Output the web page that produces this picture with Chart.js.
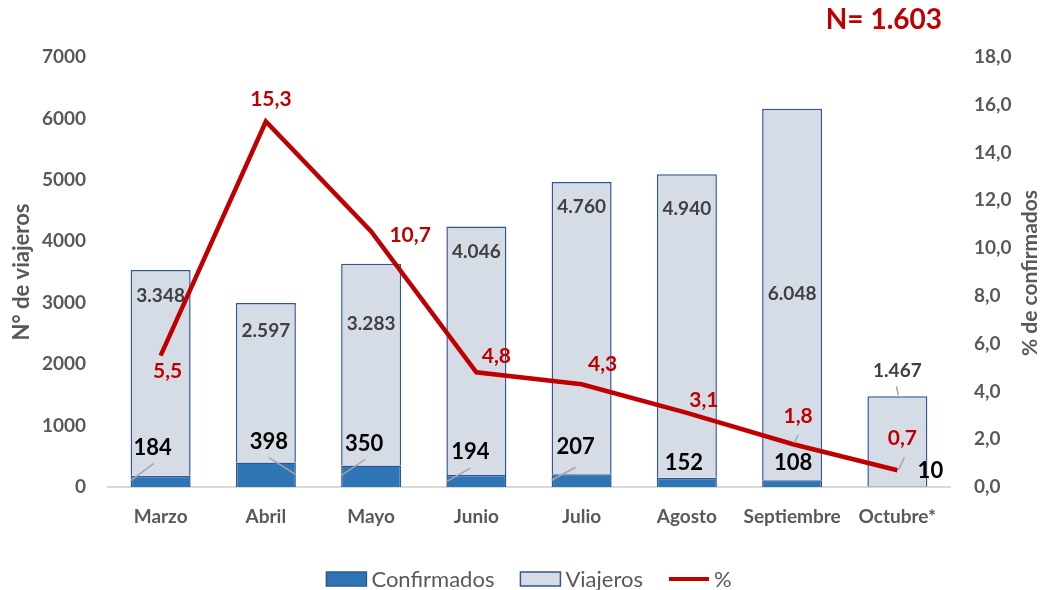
<!DOCTYPE html>
<html>
<head>
<meta charset="utf-8">
<script src="https://cdn.jsdelivr.net/npm/chart.js@4.4.1/dist/chart.umd.min.js"></script>
<style>
  html, body { margin: 0; padding: 0; background: #fff; }
  #wrap { width: 1041px; height: 590px; }
</style>
</head>
<body>
<div id="wrap"><canvas id="chart" width="1041" height="590"></canvas></div>
<script>
// ---- data ----
const months = ['Marzo', 'Abril', 'Mayo', 'Junio', 'Julio', 'Agosto', 'Septiembre', 'Octubre*'];
const confirmados = [184, 398, 350, 194, 207, 152, 108, 10];
const viajeros = [3348, 2597, 3283, 4046, 4760, 4940, 6048, 1467];
const porcentaje = [5.5, 15.3, 10.7, 4.8, 4.3, 3.1, 1.8, 0.7];
const totalN = '1.603';

// ---- label placement (pixel offsets, styling only) ----
const confOffsets = [[-8, -28], [3, -21], [-7, -22], [-6, -23], [-6, -27], [-3, -15], [1, -17], [33, -15]];
const confLeaders = [[-30, 5, -7, -12], [3, -5, 30, 12], [-30, 10, -6, -6], [-29, 6, -6, -7], [-30, 6, -6, -7], null, null, null];
const viaOffsets = [26, 28, 60, 25, 25, 35, 185, -25];
const viaLeaders = [null, null, null, null, null, null, null, [-1, -10, 1, -1]];
const pctOffsets = [[7, 16], [5, -22], [39, 4], [20, -16], [21, -20], [17, -13], [6, -28], [5, -32]];
const pctLeaders = [null, null, null, null, null, null, [2, -1, 6, -9], [1, 0, 7, -13]];

const FONT = "Lato, 'Open Sans', sans-serif";
const GREY = '#595959';
const RED = '#C00000';

const fmtInt = n => String(n).replace(/\B(?=(\d{3})+(?!\d))/g, '.');
const fmtPct = v => v.toFixed(1).replace('.', ',');

function leader(ctx, x, y, l) {
  if (!l) return;
  ctx.save();
  ctx.strokeStyle = '#A6A6A6';
  ctx.lineWidth = 1.5;
  ctx.beginPath();
  ctx.moveTo(x + l[0], y + l[1]);
  ctx.lineTo(x + l[2], y + l[3]);
  ctx.stroke();
  ctx.restore();
}

const labelPlugin = {
  id: 'labelPlugin',
  afterDatasetsDraw(chart) {
    const ctx = chart.ctx;
    const confMeta = chart.getDatasetMeta(0);
    const viaMeta = chart.getDatasetMeta(1);
    const lineMeta = chart.getDatasetMeta(2);
    ctx.save();
    ctx.textAlign = 'center';
    ctx.textBaseline = 'middle';

    // viajeros labels
    ctx.font = 'bold 19px ' + FONT;
    ctx.fillStyle = '#404040';
    viaMeta.data.forEach((bar, i) => {
      leader(ctx, bar.x, bar.y, viaLeaders[i]);
      ctx.fillText(fmtInt(viajeros[i]), bar.x, bar.y + viaOffsets[i]);
    });

    // confirmados labels
    ctx.font = 'bold 22px ' + FONT;
    ctx.fillStyle = '#000';
    confMeta.data.forEach((bar, i) => {
      leader(ctx, bar.x, bar.y, confLeaders[i]);
      ctx.fillText(String(confirmados[i]), bar.x + confOffsets[i][0], bar.y + confOffsets[i][1]);
    });

    // percentage labels
    ctx.font = 'bold 21px ' + FONT;
    ctx.fillStyle = RED;
    lineMeta.data.forEach((pt, i) => {
      leader(ctx, pt.x, pt.y, pctLeaders[i]);
      ctx.fillText(fmtPct(porcentaje[i]), pt.x + pctOffsets[i][0], pt.y + pctOffsets[i][1]);
    });
    ctx.restore();
  },
  afterDraw(chart) {
    const ctx = chart.ctx;
    const area = chart.chartArea;
    ctx.save();

    // N title
    ctx.font = 'bold 28px ' + FONT;
    ctx.fillStyle = RED;
    ctx.textAlign = 'right';
    ctx.textBaseline = 'middle';
    ctx.fillText('N= ' + totalN, 942, 20);

    // axis titles (both read bottom to top)
    ctx.fillStyle = GREY;
    ctx.textAlign = 'center';
    ctx.font = 'bold 22px ' + FONT;
    ctx.save();
    ctx.translate(22, 272);
    ctx.rotate(-Math.PI / 2);
    ctx.fillText('N° de viajeros', 0, 0);
    ctx.restore();
    ctx.font = 'bold 21px ' + FONT;
    ctx.save();
    ctx.translate(1030, 273);
    ctx.rotate(-Math.PI / 2);
    ctx.fillText('% de confirmados', 0, 0);
    ctx.restore();

    // legend
    const items = [
      { text: 'Confirmados', kind: 'box', fill: '#2E75B6', stroke: '#2F5597' },
      { text: 'Viajeros', kind: 'box', fill: '#D6DCE5', stroke: '#2F5597' },
      { text: '%', kind: 'line', stroke: RED }
    ];
    ctx.font = '22px ' + FONT;
    const boxW = 40, gapAfterBox = 5, gapItems = 26;
    let total = 0;
    items.forEach((it, i) => {
      total += boxW + gapAfterBox + ctx.measureText(it.text).width + (i < items.length - 1 ? gapItems : 0);
    });
    let x = (area.left + area.right) / 2 - total / 2;
    const y = 579;
    ctx.textAlign = 'left';
    items.forEach(it => {
      if (it.kind === 'box') {
        ctx.fillStyle = it.fill;
        ctx.fillRect(x, y - 7, boxW, 14);
        ctx.strokeStyle = it.stroke;
        ctx.lineWidth = 1.5;
        ctx.strokeRect(x, y - 7, boxW, 14);
      } else {
        ctx.strokeStyle = it.stroke;
        ctx.lineWidth = 4;
        ctx.beginPath();
        ctx.moveTo(x, y);
        ctx.lineTo(x + boxW, y);
        ctx.stroke();
      }
      x += boxW + gapAfterBox;
      ctx.fillStyle = GREY;
      ctx.fillText(it.text, x, y + 1);
      x += ctx.measureText(it.text).width + gapItems;
    });
    ctx.restore();
  }
};

new Chart(document.getElementById('chart').getContext('2d'), {
  type: 'bar',
  data: {
    labels: months,
    datasets: [
      {
        label: 'Confirmados',
        data: confirmados,
        backgroundColor: '#2E75B6',
        borderColor: '#2F5597',
        borderWidth: 1.5,
        stack: 's',
        yAxisID: 'y',
        order: 2,
        barPercentage: 0.57,
        categoryPercentage: 1
      },
      {
        label: 'Viajeros',
        data: viajeros,
        backgroundColor: '#D6DCE5',
        borderColor: '#2F5597',
        borderWidth: 1.5,
        stack: 's',
        yAxisID: 'y',
        order: 2,
        barPercentage: 0.57,
        categoryPercentage: 1
      },
      {
        type: 'line',
        label: '%',
        data: porcentaje,
        borderColor: RED,
        backgroundColor: RED,
        borderWidth: 4.5,
        pointRadius: 0,
        tension: 0,
        yAxisID: 'y2',
        order: 0
      }
    ]
  },
  options: {
    responsive: false,
    animation: false,
    layout: { padding: { top: 57, left: 0, right: 0, bottom: 0 } },
    plugins: {
      legend: { display: false },
      tooltip: { enabled: false }
    },
    scales: {
      x: {
        stacked: true,
        grid: { display: false, drawTicks: false },
        border: { display: true, color: '#D9D9D9', width: 2 },
        ticks: { color: GREY, font: { family: FONT, size: 19, weight: 'bold' }, padding: 18 },
        afterFit(s) { s.height = 103; }
      },
      y: {
        stacked: true,
        position: 'left',
        min: 0, max: 7000,
        grid: { display: false, drawTicks: false },
        border: { display: false },
        ticks: {
          stepSize: 1000,
          color: GREY,
          font: { family: FONT, size: 19, weight: 'bold' },
          padding: 22,
          callback: v => String(v)
        },
        afterFit(s) { s.width = 108; }
      },
      y2: {
        position: 'right',
        min: 0, max: 18,
        grid: { display: false, drawTicks: false },
        border: { display: false },
        ticks: {
          stepSize: 2,
          color: GREY,
          font: { family: FONT, size: 19, weight: 'bold' },
          padding: 24,
          callback: v => fmtPct(v)
        },
        afterFit(s) { s.width = 91; }
      }
    }
  },
  plugins: [labelPlugin]
});
</script>
</body>
</html>
